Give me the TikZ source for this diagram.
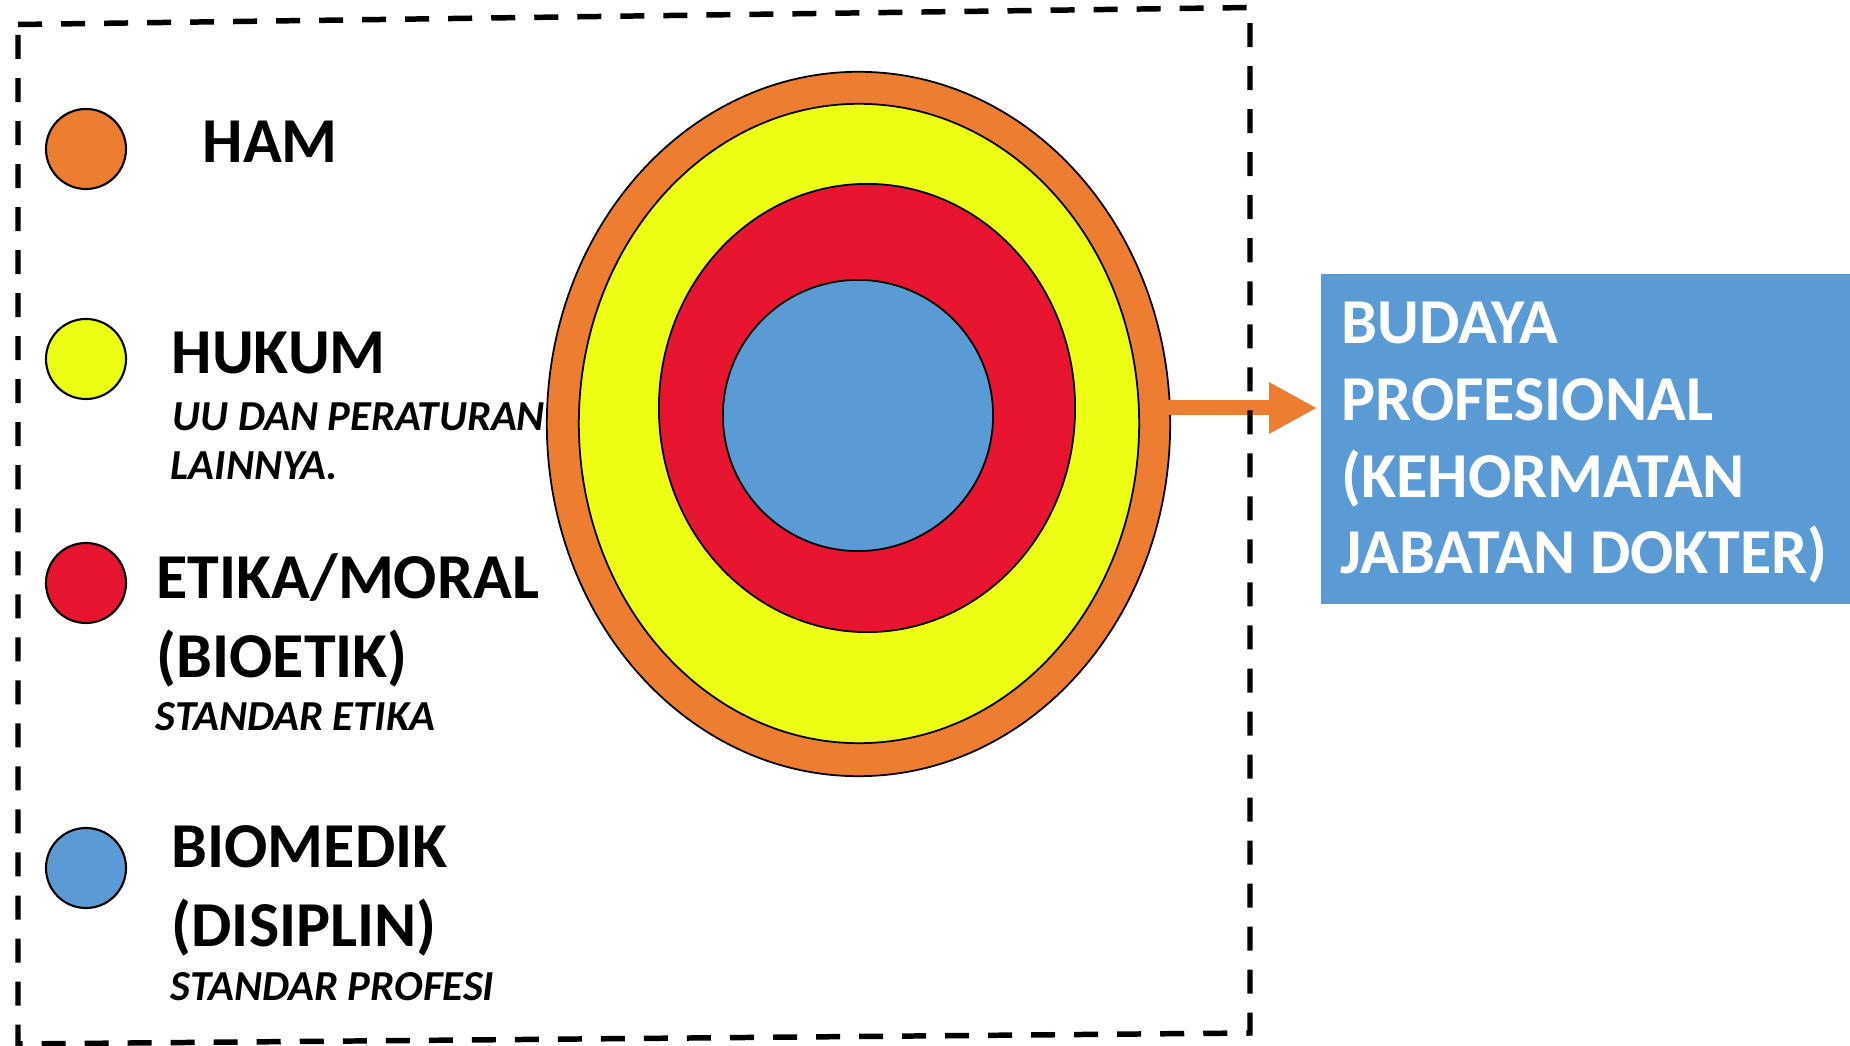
\documentclass[tikz,border=0pt]{standalone}
\usepackage{fontspec}
\setmainfont{Carlito}
\usetikzlibrary{shapes.geometric,arrows.meta}
\definecolor{hamc}{HTML}{ED7D31}
\definecolor{hukc}{HTML}{EBFE14}
\definecolor{etic}{HTML}{E81530}
\definecolor{bioc}{HTML}{5B9BD5}
\begin{document}
\begin{tikzpicture}[x=0.01cm,y=-0.01cm,
  dot/.style={circle,draw=black,line width=0.6pt,minimum size=0.8cm,inner sep=0},
  ring/.style={ellipse,draw=black,line width=0.5pt,inner sep=0},
  lbl/.style={anchor=base west,inner sep=0,font=\fontsize{18.2}{20}\selectfont\bfseries},
  sub/.style={anchor=base west,inner sep=0,font=\fontsize{12.15}{14}\selectfont\bfseries\itshape},
  boxtxt/.style={anchor=base west,inner sep=0,text=white,font=\fontsize{18.2}{20}\selectfont\bfseries},
  frame/.style={line width=1.56pt,dash pattern=on 0.24cm off 0.19cm},
  flow/.style={draw=hamc,line width=0.15cm,-{Triangle[length=0.48cm,width=0.48cm]}}]
\useasboundingbox (0,0) rectangle (1850,1046);
\fill[white] (0,0) rectangle (1850,1046);
% concentric layers
\node[ring,fill=hamc,minimum width=6.23cm,minimum height=7.04cm] (eham) at (858.5,424) {};
\node[ring,fill=hukc,minimum width=5.60cm,minimum height=6.39cm] (ehuk) at (859,423.5) {};
\node[ring,fill=etic,minimum width=4.16cm,minimum height=4.48cm] (eeti) at (867,408) {};
\node[ring,fill=bioc,minimum width=2.70cm,minimum height=2.71cm] (ebio) at (858,415.5) {};
% result box
\node[rectangle,fill=bioc,minimum width=5.29cm,minimum height=3.30cm,inner sep=0] (box) at (1585.5,439) {};
\node[boxtxt] (b1) at (1341,344) {BUDAYA};
\node[boxtxt] (b2) at (1341,421) {PROFESIONAL};
\node[boxtxt] (b3) at (1341,498) {(KEHORMATAN};
\node[boxtxt] (b4) at (1340,574) {JABATAN DOKTER)};
% arrow
\coordinate (astart) at (1168,408);
\draw[flow,shorten >=0.03cm] (astart) -- (box.west |- astart);
% legend
\node[dot,fill=hamc] (dham) at (86,149) {};
\node[dot,fill=hukc] (dhuk) at (86,359) {};
\node[dot,fill=etic] (deti) at (86,583) {};
\node[dot,fill=bioc] (dbio) at (86,868) {};
\node[lbl] (tham) at (202,163) {HAM};
\node[lbl] (thuk) at (171,374) {HUKUM};
\node[sub] (thuk1) at (172,431) {UU DAN PERATURAN};
\node[sub] (thuk2) at (170,480) {LAINNYA.};
\node[lbl] (teti) at (156,599) {ETIKA/MORAL};
\node[lbl] (teti1) at (156,678) {(BIOETIK)};
\node[sub] (teti2) at (155,731) {STANDAR ETIKA};
\node[lbl] (tbio) at (171,868) {BIOMEDIK};
\node[lbl] (tbio1) at (171,947) {(DISIPLIN)};
\node[sub] (tbio2) at (170,1001) {STANDAR PROFESI};
% dashed frame
\draw[frame] (18,24.5) -- (1250,7.5) -- (1250,1033) -- (18,1044) -- cycle;
\end{tikzpicture}
\end{document}
